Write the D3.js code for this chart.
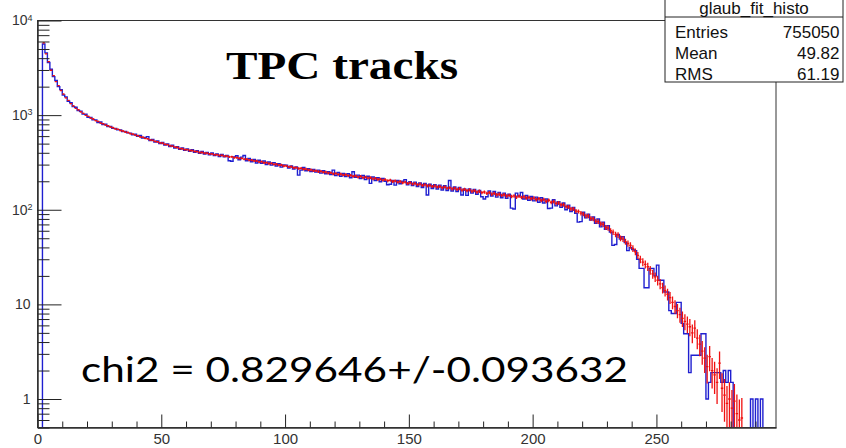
<!DOCTYPE html>
<html><head><meta charset="utf-8">
<script src="https://cdn.jsdelivr.net/npm/d3@7"></script>
<style>body{margin:0;background:#fff} svg{display:block}</style>
</head><body>
<svg id="c" width="846" height="448"></svg>
<script>
// ---------------- DATA ----------------
// data histogram (blue), one value per unit-width bin starting at bin 0
const dataCounts = [
0,0,5650,4550,3600,3050,2550,2320,2000,1860,
1630,1560,1400,1350,1230,1210,1120,1100,1025,1020,
950,945,895,890,835,845,795,800,758,760,
725,722,700,698,670,672,650,645,620,628,
598,610,572,580,592,538,552,518,532,500,
515,484,496,466,480,450,464,436,450,424,
440,414,430,404,420,396,412,388,404,380,
398,374,390,366,384,362,376,330,325,362,
372,338,360,375,330,348,322,340,312,334,
310,328,300,320,296,315,290,306,282,298,
296,276,290,270,284,232,262,280,258,272,
254,266,250,262,244,258,240,252,236,262,
230,248,226,242,224,240,218,252,220,232,
214,230,208,226,190,222,204,218,198,214,
200,184,186,204,182,204,188,200,208,184,
198,180,196,176,192,172,190,143,186,168,
184,166,182,162,180,160,204,158,174,156,
172,143,166,142,166,150,164,146,160,137,
130,137,158,140,156,136,152,134,150,132,
146,104,102,150,140,152,130,142,126,138,
124,136,120,134,118,130,103,104,128,110,
122,106,118,100,112,96,106,92,74,75,
94,82,90,78,84,72,80,66,74,62,
68,58,42,43,55,49,52,45,37,40,
38,37,30,24,24,15,15,24,24,20,
26,18,18,13.5,13.5,8.6,8,8,10.5,10.5,
6.3,4.9,4.9,1.9,2.9,2.9,2.9,2.9,4.9,4.9,
1,1.5,1.9,1.9,1.9,1.9,1.5,2,1.5,2,
1.5,0,0,0,0,0,0,0,1,0,
1,0,1,0,0,0,0,0
];
// Glauber fit histogram (red, with error bars), first bin = fitFirstBin
const fitFirstBin = 2;
const fitCounts = [
5800,4450,3680,2980,2620,2260,2050,1820,1670,
1525,1430,1320,1255,1180,1140,1080,1045,995,970,
930,910,875,858,825,812,785,772,748,738,
716,708,688,680,661,655,638,630,614,607,
590,584,568,563,547,542,528,523,510,505,
492,488,475,471,459,455,443,442,433,432,
423,422,413,412,403,403,396,396,389,389,
382,382,375,376,368,369,362,363,356,356,
349,349,342,342,335,335,328,328,321,322,
314,315,308,309,302,303,296,297,290,291,
284,285,278,279,273,274,268,269,263,264,
258,259,253,255,249,250,244,246,240,242,
236,238,233,235,229,231,226,228,222,225,
219,221,216,218,212,215,209,211,206,208,
203,205,199,202,196,199,193,196,190,193,
187,190,184,187,181,184,179,181,176,179,
174,176,171,174,169,171,166,169,164,167,
161,164,159,162,157,159,154,157,152,154,
149,152,146,149,144,146,142,144,140,142,
138,140,136,139,135,137,133,135,131,133,
128,131,126,128,123,126,120,122,117,118,
113,113,108,107,102,102,97,96,92,90,
86,86,81,80,76,75,71,70,65,64,
60,58,55,54,50,49,46,44,42,
39,36,33,30,28,26.5,25,23,21,19.5,18,
16.5,15,14,12.8,11.8,10.5,9.5,8.6,7.8,7.1,
6.6,6.2,5.8,5.0,5.6,4.4,3.8,3.2,2.7,2.2,
2.8,2.0,1.8,1.5,2.4,1.3,1.1,0.9,1.0,0.8,
0.95,0.7,0.6,0.63
];
const xMajorTicks = [0, 50, 100, 150, 200, 250];
const yMajorTicks = [1, 10, 100, 1000, 10000];
const statsTitle = "glaub_fit_histo";
const statsNames = ["Entries", "Mean", "RMS"];
const statsValues = ["755050", "49.82", "61.19"];
const titleText = "TPC tracks";
const chiText = "chi2 = 0.829646+/-0.093632";

// ---------------- LAYOUT ----------------
const L = 37.5, R = 776, T = 20.5, B = 427.5;
const svg = d3.select("#c");
const x = d3.scaleLinear().domain([0, 298.3]).range([L, R]);
const y = d3.scaleLog().domain([0.5, 10000]).range([B, T]);
const FLOOR = 0.3;

svg.append("defs").append("clipPath").attr("id", "clip")
  .append("rect").attr("x", L).attr("y", T).attr("width", R - L).attr("height", B - T);

// frame
svg.append("rect").attr("x", L).attr("y", T).attr("width", R - L).attr("height", B - T)
  .attr("fill", "none").attr("stroke", "#333").attr("stroke-width", 1);

const plot = svg.append("g").attr("clip-path", "url(#clip)");

// blue step histogram
let p = d3.path();
p.moveTo(x(0), y(FLOOR));
dataCounts.forEach((v, i) => {
  const yy = y(Math.max(v, FLOOR));
  p.lineTo(x(i), yy);
  p.lineTo(x(i + 1), yy);
});
p.lineTo(x(dataCounts.length), y(FLOOR));
plot.append("path").attr("d", p.toString()).attr("fill", "none")
  .attr("stroke", "#1f1fd0").attr("stroke-width", 1.4);

// red fit points with error bars
const ERR_SCALE = 0.5;
const red = plot.append("g").attr("stroke", "#f01010").attr("stroke-width", 1.3).attr("fill", "none");
fitCounts.forEach((v, k) => {
  const b = fitFirstBin + k;
  const e = ERR_SCALE * Math.sqrt(v);
  red.append("line").attr("x1", x(b)).attr("x2", x(b + 1)).attr("y1", y(v)).attr("y2", y(v));
  red.append("line").attr("x1", x(b + 0.5)).attr("x2", x(b + 0.5))
    .attr("y1", y(v + e)).attr("y2", y(Math.max(v - e, FLOOR)));
});

// x axis
const xMinor = d3.range(0, 300, 10).filter(t => !xMajorTicks.includes(t));
const xMinorAxis = d3.axisBottom(x).tickValues(xMinor).tickSizeInner(-6).tickSizeOuter(0).tickFormat("");
const xAxis = d3.axisBottom(x).tickValues(xMajorTicks).tickSizeInner(-13).tickSizeOuter(0).tickPadding(5.5).tickFormat(d3.format("d"));
const gxm = svg.append("g").attr("transform", `translate(0,${B})`).call(xMinorAxis);
const gx = svg.append("g").attr("transform", `translate(0,${B})`).call(xAxis);
[gx, gxm].forEach(g => { g.select(".domain").attr("stroke", "#333"); g.selectAll("line").attr("stroke", "#222"); });
gx.selectAll("text").attr("font-family", "Liberation Sans, Arial, sans-serif").attr("font-size", 15).attr("fill", "#333");

// y axis
const yMinor = [];
[0.1, 1, 10, 100, 1000].forEach(d => { for (let m = 2; m <= 9; m++) { const v = d * m; if (v >= 0.5 && v < 10000) yMinor.push(v); } });
const yMinorAxis = d3.axisLeft(y).tickValues(yMinor).tickSizeInner(-12).tickSizeOuter(0).tickFormat("");
const yAxis = d3.axisLeft(y).tickValues(yMajorTicks).tickSizeInner(-24).tickSizeOuter(0).tickPadding(6).tickFormat("");
const gym = svg.append("g").attr("transform", `translate(${L},0)`).call(yMinorAxis);
const gy = svg.append("g").attr("transform", `translate(${L},0)`).call(yAxis);
[gy, gym].forEach(g => { g.select(".domain").attr("stroke", "#333"); g.selectAll("line").attr("stroke", "#222"); });
gy.selectAll(".tick text").each(function(d) {
  const t = d3.select(this).attr("font-family", "Liberation Sans, Arial, sans-serif").attr("font-size", 14).attr("fill", "#333");
  const ex = Math.round(Math.log10(d));
  if (ex <= 1) { t.text(d3.format("d")(d)); t.attr("x", -7); }
  else {
    t.attr("x", -5);
    t.append("tspan").text("10");
    t.append("tspan").attr("font-size", 9).attr("dy", "-0.55em").text(ex);
  }
});

// title and fit result
svg.append("text").attr("x", 226).attr("y", 78.5).text(titleText)
  .attr("font-family", "Liberation Serif, Times New Roman, serif").attr("font-weight", "bold")
  .attr("font-size", 40).attr("textLength", 232).attr("lengthAdjust", "spacingAndGlyphs").attr("fill", "#000");
svg.append("text").attr("x", 81).attr("y", 381.5).text(chiText)
  .attr("font-family", "Lato, Open Sans, sans-serif").attr("font-size", 34)
  .attr("textLength", 547).attr("lengthAdjust", "spacingAndGlyphs").attr("fill", "#000");

// stats box
const sb = svg.append("g");
const bx0 = 665, bx1 = 843, by0 = -1, by1 = 82, byT = 17;
sb.append("rect").attr("x", bx0).attr("y", by0).attr("width", bx1 - bx0).attr("height", by1 - by0)
  .attr("fill", "#fff").attr("stroke", "#222").attr("stroke-width", 1);
sb.append("line").attr("x1", bx0).attr("x2", bx1).attr("y1", byT).attr("y2", byT).attr("stroke", "#222");
const sf = "Liberation Sans, Arial, sans-serif";
sb.append("text").attr("x", (bx0 + bx1) / 2).attr("y", 14).attr("text-anchor", "middle")
  .attr("font-family", sf).attr("font-size", 17).attr("fill", "#111").text(statsTitle);
statsNames.forEach((n, i) => {
  const yy = 37.5 + i * 21;
  sb.append("text").attr("x", 675).attr("y", yy).attr("font-family", sf).attr("font-size", 17).attr("fill", "#111").text(n);
  sb.append("text").attr("x", 839.5).attr("y", yy).attr("text-anchor", "end").attr("font-family", sf).attr("font-size", 17).attr("fill", "#111").text(statsValues[i]);
});
</script>
</body></html>
